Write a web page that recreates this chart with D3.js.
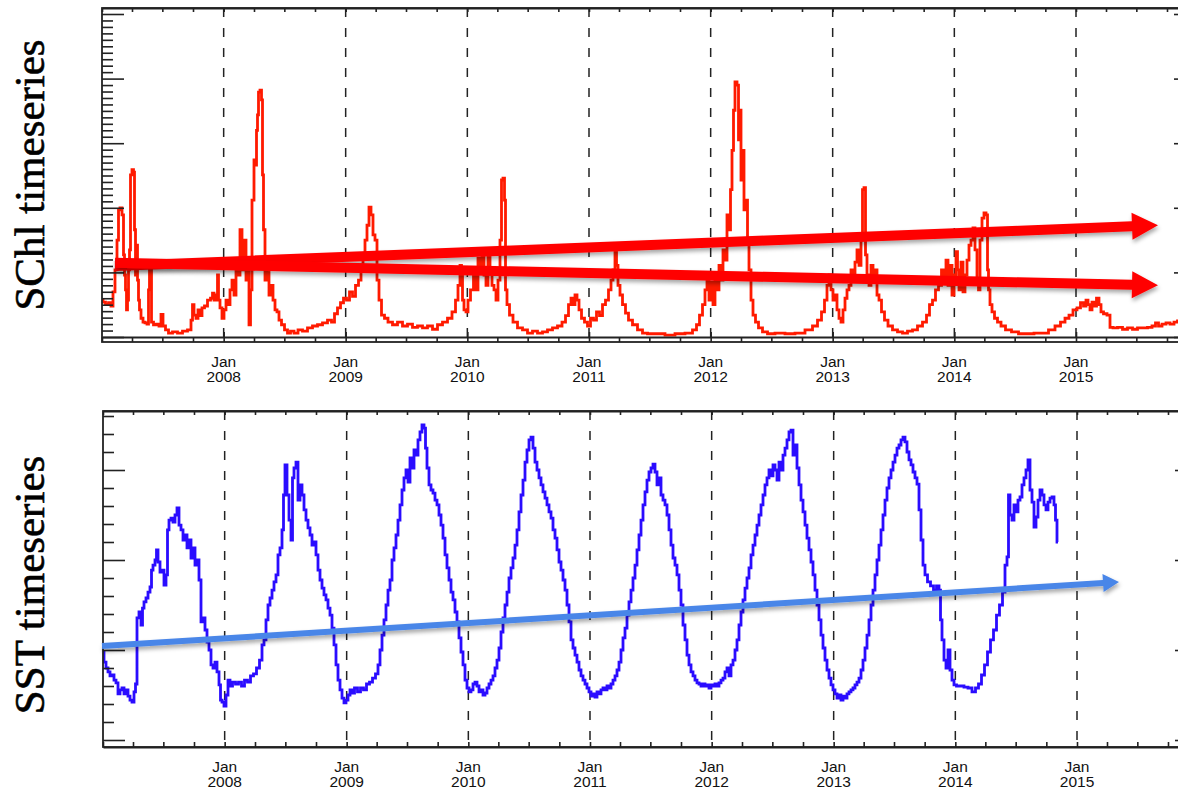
<!DOCTYPE html>
<html><head><meta charset="utf-8">
<script src="https://cdn.jsdelivr.net/npm/d3@7"></script>
<style>html,body{margin:0;padding:0;background:#fff;} svg{display:block}</style>
</head><body>
<svg id="c" width="1178" height="790"></svg>
<script>
// ---------- DATA ----------
// time unit: days since 2007-01-01
const startYear = 2007;
const lastDay = 3231;
const yearTicks = [2008, 2009, 2010, 2011, 2012, 2013, 2014, 2015];
const monthLabel = "Jan";
const titles = ["SChl timeseries", "SST timeseries"];

// surface chlorophyll (relative units, 1 = one major tick)
const schlSeries = [
[0,0.57],[6,0.54],[15,0.50],[24,0.53],[30,0.48],[36,0.70],[42,1.04],[48,1.50],[51,1.97],[57,2.00],[63,1.89],[66,1.27],[69,0.96],[72,0.73],[75,0.42],[78,0.57],[81,1.04],[84,1.35],[87,2.51],[93,2.59],[96,2.55],[99,1.66],[102,0.96],[105,1.42],[108,0.88],[111,0.57],[114,0.42],[120,0.29],[126,0.23],[132,0.22],[138,0.20],[141,0.73],[144,1.07],[147,1.04],[150,0.23],[159,0.19],[168,0.20],[174,0.17],[180,0.35],[186,0.17],[195,0.11],[204,0.06],[219,0.08],[234,0.06],[249,0.09],[264,0.11],[270,0.26],[273,0.50],[279,0.34],[285,0.29],[291,0.42],[297,0.33],[303,0.45],[312,0.48],[321,0.57],[330,0.60],[333,0.68],[339,0.57],[345,0.65],[348,0.96],[351,0.57],[357,0.45],[363,0.29],[369,0.42],[375,0.57],[381,0.50],[387,0.73],[393,0.88],[399,0.65],[405,1.04],[411,0.96],[417,1.66],[423,1.04],[429,1.50],[435,0.88],[438,1.19],[444,0.19],[447,0.73],[453,2.12],[459,2.74],[462,2.66],[465,3.20],[468,3.44],[471,3.79],[477,3.82],[480,3.67],[483,2.51],[486,1.66],[492,0.88],[498,1.04],[504,0.65],[510,0.80],[516,0.57],[522,0.42],[528,0.39],[534,0.26],[543,0.19],[552,0.11],[561,0.06],[570,0.09],[582,0.06],[594,0.11],[609,0.09],[624,0.14],[639,0.17],[654,0.19],[669,0.22],[684,0.26],[693,0.23],[702,0.36],[711,0.45],[720,0.53],[729,0.60],[738,0.57],[747,0.70],[756,0.63],[765,0.80],[774,0.88],[780,1.04],[786,1.27],[792,1.50],[798,1.73],[804,2.01],[810,1.89],[816,1.58],[822,1.50],[828,0.88],[834,0.57],[843,0.34],[852,0.29],[864,0.23],[879,0.19],[894,0.23],[909,0.17],[924,0.20],[939,0.15],[954,0.17],[969,0.14],[984,0.17],[999,0.12],[1014,0.19],[1029,0.23],[1044,0.29],[1056,0.39],[1065,0.57],[1071,0.80],[1077,1.11],[1080,1.07],[1083,0.57],[1089,0.42],[1095,0.39],[1101,0.57],[1110,0.73],[1119,0.96],[1125,0.73],[1131,1.22],[1137,1.04],[1143,1.27],[1149,0.96],[1155,0.80],[1161,1.35],[1167,1.04],[1173,0.80],[1179,0.73],[1185,0.57],[1191,0.88],[1197,1.50],[1200,2.43],[1206,2.46],[1209,2.12],[1212,0.73],[1218,0.50],[1227,0.34],[1239,0.23],[1254,0.14],[1269,0.11],[1284,0.06],[1299,0.09],[1314,0.06],[1329,0.08],[1344,0.11],[1359,0.14],[1374,0.17],[1386,0.23],[1395,0.33],[1404,0.50],[1410,0.60],[1416,0.50],[1422,0.65],[1428,0.57],[1434,0.42],[1443,0.29],[1452,0.23],[1461,0.17],[1470,0.29],[1479,0.26],[1488,0.39],[1497,0.33],[1506,0.50],[1515,0.57],[1524,0.73],[1530,0.88],[1536,1.04],[1542,1.35],[1545,1.11],[1551,0.80],[1557,0.65],[1566,0.50],[1575,0.37],[1584,0.26],[1599,0.19],[1614,0.11],[1629,0.06],[1644,0.05],[1674,0.05],[1704,0.03],[1734,0.05],[1764,0.06],[1779,0.11],[1788,0.19],[1797,0.34],[1806,0.50],[1812,0.73],[1818,0.88],[1824,0.57],[1830,0.85],[1836,0.50],[1842,0.96],[1848,0.73],[1854,1.11],[1860,0.88],[1866,1.35],[1872,1.19],[1878,1.89],[1884,1.66],[1887,2.28],[1893,2.89],[1896,3.51],[1902,3.95],[1908,3.90],[1911,3.05],[1914,3.51],[1920,2.43],[1923,2.89],[1929,1.97],[1935,2.12],[1938,1.50],[1944,1.04],[1950,0.57],[1956,0.34],[1965,0.23],[1974,0.14],[1989,0.08],[2004,0.05],[2034,0.06],[2064,0.05],[2094,0.06],[2124,0.11],[2139,0.17],[2154,0.26],[2163,0.39],[2172,0.57],[2178,0.80],[2184,0.96],[2190,0.73],[2196,0.57],[2202,0.65],[2208,0.42],[2214,0.29],[2220,0.23],[2226,0.42],[2232,0.60],[2238,0.73],[2244,0.80],[2250,1.04],[2256,0.88],[2262,1.16],[2268,1.35],[2274,1.11],[2280,1.50],[2283,2.28],[2289,2.31],[2292,1.27],[2298,0.96],[2304,0.80],[2310,1.11],[2316,0.88],[2322,1.04],[2328,0.65],[2334,0.57],[2343,0.39],[2352,0.26],[2364,0.17],[2379,0.11],[2394,0.08],[2409,0.06],[2424,0.09],[2439,0.11],[2454,0.17],[2469,0.23],[2478,0.34],[2487,0.50],[2496,0.57],[2505,0.73],[2514,0.80],[2523,1.04],[2529,0.88],[2535,1.19],[2541,0.80],[2547,1.11],[2553,0.65],[2559,0.96],[2565,1.32],[2568,1.04],[2574,0.73],[2580,1.16],[2586,0.70],[2592,0.96],[2598,1.19],[2604,1.42],[2610,1.50],[2616,1.69],[2622,1.35],[2628,0.88],[2631,0.73],[2637,1.50],[2643,1.84],[2649,1.92],[2655,1.89],[2658,1.04],[2661,0.73],[2667,0.50],[2673,0.39],[2682,0.29],[2691,0.23],[2703,0.17],[2718,0.11],[2739,0.08],[2760,0.05],[2784,0.05],[2808,0.06],[2829,0.06],[2850,0.11],[2868,0.17],[2883,0.23],[2895,0.29],[2907,0.34],[2919,0.42],[2931,0.45],[2940,0.53],[2949,0.48],[2955,0.57],[2961,0.50],[2967,0.42],[2973,0.54],[2979,0.48],[2988,0.60],[2994,0.50],[3000,0.39],[3009,0.36],[3021,0.34],[3027,0.15],[3039,0.14],[3054,0.15],[3069,0.12],[3084,0.14],[3099,0.12],[3114,0.14],[3129,0.14],[3144,0.15],[3156,0.17],[3165,0.22],[3174,0.17],[3186,0.20],[3198,0.22],[3210,0.20],[3222,0.23],[3231,0.25]
];

// sea surface temperature (deg C)
const sstSeries = [
[0,14.9],[6,14.33],[12,14.0],[18,13.78],[24,13.56],[30,13.61],[36,13.33],[42,13.17],[48,12.56],[54,12.78],[60,12.89],[66,12.56],[72,12.78],[78,12.44],[84,12.22],[90,12.11],[96,12.67],[99,13.11],[105,16.78],[111,17.11],[117,16.39],[120,17.33],[126,17.67],[132,17.89],[138,18.22],[144,18.5],[147,19.44],[153,19.72],[159,20.0],[162,20.56],[168,19.89],[174,19.33],[180,19.44],[186,18.61],[192,19.17],[195,21.67],[201,22.22],[207,22.33],[213,22.11],[219,22.5],[225,22.89],[231,21.94],[237,21.67],[243,21.11],[249,21.39],[255,20.67],[261,21.11],[267,20.11],[273,20.67],[279,19.72],[285,20.0],[291,18.89],[297,16.56],[303,16.78],[309,16.11],[315,15.44],[321,15.0],[327,14.17],[333,14.0],[339,14.33],[345,13.78],[351,13.06],[354,12.22],[360,12.11],[366,11.89],[372,12.5],[378,13.33],[384,13.0],[393,13.22],[402,13.11],[411,13.22],[420,13.0],[429,13.33],[438,13.22],[447,13.56],[456,13.67],[465,14.0],[474,14.44],[480,15.28],[486,15.56],[492,16.67],[498,17.5],[504,17.89],[510,18.33],[516,18.78],[522,19.17],[528,20.28],[534,20.67],[540,21.67],[543,23.61],[549,25.28],[555,23.61],[561,22.22],[567,21.11],[570,24.56],[576,25.11],[582,25.44],[588,23.33],[594,24.17],[600,23.61],[606,22.78],[612,22.22],[618,21.78],[624,21.39],[630,20.83],[636,21.0],[642,20.28],[648,19.44],[654,18.89],[660,18.44],[666,18.06],[672,17.78],[678,17.33],[684,16.94],[690,16.22],[696,15.28],[702,14.17],[708,13.33],[714,12.78],[720,12.33],[726,12.06],[732,12.22],[738,12.5],[744,12.78],[750,12.61],[759,12.89],[768,12.67],[777,12.89],[786,12.78],[795,13.11],[804,13.22],[813,13.44],[822,13.67],[828,14.17],[834,15.0],[840,15.83],[846,16.67],[852,17.5],[858,18.33],[864,18.89],[870,20.0],[876,20.67],[882,21.39],[888,22.22],[894,23.06],[900,23.89],[906,24.56],[912,25.0],[918,24.33],[924,25.67],[930,25.11],[936,26.11],[942,25.83],[948,26.67],[954,27.11],[960,27.5],[966,27.33],[969,26.22],[975,25.11],[981,24.17],[987,23.89],[993,23.72],[999,23.33],[1005,23.06],[1011,22.5],[1017,21.94],[1023,21.22],[1029,20.28],[1035,19.56],[1041,18.89],[1047,18.22],[1053,17.78],[1059,17.11],[1065,16.56],[1071,15.67],[1077,14.89],[1083,14.17],[1089,13.33],[1095,12.89],[1101,12.67],[1107,12.78],[1113,13.11],[1119,13.22],[1125,13.0],[1131,12.67],[1137,12.78],[1143,12.5],[1149,12.61],[1155,12.89],[1161,13.11],[1167,13.33],[1173,13.56],[1179,14.0],[1185,14.44],[1191,15.11],[1197,16.0],[1203,16.78],[1209,17.5],[1215,18.22],[1221,19.0],[1227,19.56],[1233,20.11],[1239,20.83],[1245,21.67],[1251,22.67],[1257,23.61],[1263,24.44],[1269,25.44],[1275,26.11],[1281,26.67],[1287,26.83],[1293,26.22],[1299,25.44],[1305,25.0],[1311,24.56],[1317,24.17],[1323,23.78],[1329,23.44],[1335,23.06],[1341,22.67],[1347,22.33],[1353,21.67],[1359,21.22],[1365,20.56],[1371,19.89],[1377,19.44],[1383,18.89],[1389,18.33],[1395,17.5],[1401,16.56],[1407,15.56],[1413,15.11],[1419,14.72],[1425,14.33],[1431,13.89],[1437,13.56],[1443,13.33],[1449,13.11],[1455,12.89],[1461,12.67],[1467,12.44],[1473,12.56],[1479,12.39],[1485,12.67],[1491,12.56],[1497,12.78],[1503,12.89],[1509,12.78],[1515,13.0],[1521,12.89],[1527,13.11],[1533,13.33],[1539,13.56],[1545,13.89],[1551,14.33],[1557,15.0],[1563,15.67],[1569,16.22],[1575,16.94],[1581,17.67],[1587,18.33],[1593,19.0],[1599,19.72],[1605,20.56],[1611,21.39],[1617,22.22],[1623,23.06],[1629,23.78],[1635,24.44],[1641,24.89],[1647,25.11],[1653,25.33],[1659,24.89],[1665,24.17],[1671,24.56],[1677,23.61],[1683,23.33],[1689,23.06],[1695,22.5],[1701,21.67],[1707,20.83],[1713,20.11],[1719,19.72],[1725,19.17],[1731,18.33],[1737,17.5],[1743,16.39],[1749,15.56],[1755,14.72],[1761,14.17],[1767,13.78],[1773,13.56],[1779,13.33],[1785,13.17],[1791,13.11],[1797,13.0],[1803,13.11],[1809,13.0],[1815,13.06],[1821,12.89],[1827,13.06],[1833,13.0],[1839,13.11],[1845,13.0],[1851,13.17],[1857,13.33],[1863,13.44],[1869,13.78],[1875,14.0],[1881,13.56],[1887,14.17],[1893,14.44],[1899,15.0],[1905,15.56],[1911,16.39],[1917,17.11],[1923,17.78],[1929,18.44],[1935,19.0],[1941,19.56],[1947,20.28],[1953,20.83],[1959,21.39],[1965,21.94],[1971,22.5],[1977,23.06],[1983,23.61],[1989,24.17],[1995,24.56],[2001,25.0],[2007,24.67],[2013,25.28],[2019,25.0],[2025,24.44],[2031,25.44],[2037,25.0],[2043,25.83],[2049,26.22],[2055,26.67],[2061,27.11],[2067,27.22],[2073,25.83],[2079,26.39],[2085,25.11],[2091,24.17],[2097,23.33],[2103,22.67],[2109,21.94],[2115,21.22],[2121,20.56],[2127,19.89],[2133,19.17],[2139,18.33],[2145,17.5],[2151,16.67],[2157,15.83],[2163,15.11],[2169,14.44],[2175,13.89],[2181,13.44],[2187,13.06],[2193,12.78],[2199,12.56],[2205,12.33],[2211,12.5],[2217,12.22],[2223,12.44],[2229,12.33],[2235,12.56],[2241,12.67],[2247,12.78],[2253,12.89],[2259,13.06],[2265,13.22],[2271,13.44],[2277,13.89],[2283,14.44],[2289,15.11],[2295,15.83],[2301,16.67],[2307,17.5],[2313,18.33],[2319,19.17],[2325,20.0],[2331,20.83],[2337,21.67],[2343,22.5],[2349,23.33],[2355,24.0],[2361,24.56],[2367,25.0],[2373,25.44],[2379,25.83],[2385,26.22],[2391,26.39],[2397,26.67],[2403,26.83],[2409,26.56],[2415,26.0],[2421,25.56],[2427,25.28],[2433,24.89],[2439,24.56],[2445,24.22],[2451,22.78],[2457,21.11],[2463,19.72],[2469,19.17],[2478,18.78],[2487,18.56],[2496,18.33],[2505,18.56],[2511,18.33],[2514,16.67],[2520,15.56],[2526,14.44],[2532,14.0],[2538,15.0],[2544,13.89],[2550,13.33],[2556,13.06],[2565,13.0],[2577,13.0],[2589,12.94],[2601,12.89],[2613,12.67],[2622,12.89],[2631,13.11],[2640,13.61],[2649,14.17],[2658,14.89],[2667,15.56],[2676,16.11],[2685,16.94],[2694,17.5],[2703,18.22],[2709,19.72],[2715,20.17],[2718,23.61],[2724,22.5],[2730,22.22],[2736,23.06],[2742,22.67],[2748,23.33],[2754,23.5],[2760,24.17],[2766,24.56],[2772,25.0],[2778,25.56],[2784,23.89],[2790,23.22],[2796,21.83],[2802,22.39],[2808,23.33],[2814,23.89],[2820,23.61],[2826,23.06],[2832,22.78],[2838,23.22],[2844,23.44],[2850,23.5],[2856,23.06],[2859,22.22],[2865,21.0]
];

// trend arrows: [startDay, startValue, endDay, endValue]
const schlArrows = [[39, 1.10, 3168, 1.73], [39, 1.15, 3168, 0.80]];
const sstArrows = [[-3, 15.22, 3048, 18.78]];

// ---------- CHART ----------
const svg = d3.select("#c");
const day0 = new Date(startYear, 0, 1);
const toDate = d => d3.timeDay.offset(day0, d);
const defs = svg.append("defs");
const f = defs.append("filter").attr("id", "shadow").attr("x", "-5%").attr("y", "-50%").attr("width", "110%").attr("height", "200%");
f.append("feDropShadow").attr("dx", 1).attr("dy", 3).attr("stdDeviation", 2.2)
  .attr("flood-color", "#000").attr("flood-opacity", 0.35);

const INK = "#222";

function panel(cfg) {
  const x = d3.scaleTime().domain([toDate(0), toDate(lastDay)]).range([cfg.x0, cfg.x1]);
  const y = d3.scaleLinear().domain(cfg.yDom).range(cfg.yRng);
  const g = svg.append("g");
  const clipId = "clip" + cfg.id;
  defs.append("clipPath").attr("id", clipId).append("rect")
    .attr("x", cfg.x0).attr("y", cfg.top).attr("width", cfg.x1 - cfg.x0).attr("height", cfg.plotBottom - cfg.top);

  // dashed year lines
  g.selectAll("line.yr").data(yearTicks).join("line")
    .attr("x1", d => x(new Date(d, 0, 1))).attr("x2", d => x(new Date(d, 0, 1)))
    .attr("y1", cfg.top).attr("y2", cfg.plotBottom)
    .attr("stroke", INK).attr("stroke-width", 1.5).attr("stroke-dasharray", "9,11");

  // data line
  const line = d3.line().curve(d3.curveStep).x(d => x(toDate(d[0]))).y(d => y(d[1]));
  g.append("path").datum(cfg.data).attr("d", line).attr("fill", "none")
    .attr("stroke", cfg.color).attr("stroke-width", 2.8).attr("stroke-linejoin", "miter")
    .attr("clip-path", `url(#${clipId})`);

  // axes
  const styleAxis = sel => {
    sel.selectAll("line").attr("stroke", INK).attr("stroke-width", 1.6);
    sel.selectAll("path.domain").attr("stroke", INK).attr("stroke-width", 1.8);
    sel.selectAll("text").remove();
  };
  const quarters = d3.timeMonth.every(3);
  g.append("g").attr("transform", `translate(0,${cfg.top})`)
    .call(d3.axisBottom(x).ticks(quarters).tickSize(4).tickSizeOuter(0).tickFormat("")).call(styleAxis);
  g.append("g").attr("transform", `translate(0,${cfg.plotBottom})`)
    .call(cfg.doubleBottom
      ? d3.axisBottom(x).ticks(quarters).tickSize(cfg.frameBottom - cfg.plotBottom).tickSizeOuter(0).tickFormat("")
      : d3.axisTop(x).ticks(quarters).tickSize(5).tickSizeOuter(0).tickFormat(""))
    .call(styleAxis);
  if (cfg.doubleBottom) {
    g.append("g").attr("transform", `translate(0,${cfg.plotBottom})`)
      .call(d3.axisTop(x).tickValues(yearTicks.map(v => new Date(v, 0, 1))).tickSize(5).tickSizeOuter(0).tickFormat(""))
      .call(styleAxis).select("path.domain").remove();
  }
  g.append("g").attr("transform", `translate(${cfg.x0},0)`)
    .call(d3.axisRight(y).tickValues(cfg.minor).tickSize(11).tickSizeOuter(0).tickFormat("")).call(styleAxis)
    .select("path.domain").remove();
  g.append("g").attr("transform", `translate(${cfg.x0},0)`)
    .call(d3.axisRight(y).tickValues(cfg.major).tickSize(22).tickSizeOuter(0).tickFormat("")).call(styleAxis)
    .select("path.domain").remove();
  g.append("g").attr("transform", `translate(${cfg.x1},0)`)
    .call(d3.axisLeft(y).tickValues(cfg.major).tickSize(5).tickSizeOuter(0).tickFormat("")).call(styleAxis)
    .select("path.domain").remove();

  g.append("rect").attr("x", cfg.x0).attr("y", cfg.top)
    .attr("width", cfg.x1 - cfg.x0).attr("height", cfg.frameBottom - cfg.top)
    .attr("fill", "none").attr("stroke", INK).attr("stroke-width", 1.8);

  const lab = g.selectAll("g.lab").data(yearTicks).join("g")
    .attr("transform", d => `translate(${x(new Date(d, 0, 1))},0)`);
  lab.append("text").attr("y", cfg.labelY).text(monthLabel);
  lab.append("text").attr("y", cfg.labelY + 15).text(d => d);
  lab.selectAll("text").attr("text-anchor", "middle").attr("font-family", "Liberation Sans, Arial, sans-serif")
    .attr("font-size", 15.5).attr("fill", "#111");

  cfg.arrows.forEach(a => {
    const p0 = [x(toDate(a[0])), y(a[1])], p1 = [x(toDate(a[2])), y(a[3])];
    const dx = p1[0] - p0[0], dy = p1[1] - p0[1], L = Math.hypot(dx, dy);
    const u = [dx / L, dy / L], n = [-u[1], u[0]];
    const b = [p1[0] - u[0] * cfg.headLen, p1[1] - u[1] * cfg.headLen];
    const w = cfg.shaftW, H = cfg.headW;
    const pts = [
      [p0[0] + n[0] * w, p0[1] + n[1] * w], [b[0] + n[0] * w, b[1] + n[1] * w],
      [b[0] + n[0] * H, b[1] + n[1] * H], p1,
      [b[0] - n[0] * H, b[1] - n[1] * H], [b[0] - n[0] * w, b[1] - n[1] * w],
      [p0[0] - n[0] * w, p0[1] - n[1] * w]
    ];
    g.append("path").attr("d", d3.line()(pts) + "Z").attr("fill", cfg.arrowColor).attr("filter", "url(#shadow)");
  });

  svg.append("text").attr("transform", `translate(${cfg.titleX},${cfg.titleY}) rotate(-90)`)
    .attr("text-anchor", "middle").attr("font-family", "Liberation Serif, Times New Roman, serif")
    .attr("font-size", 43).attr("fill", "#000").attr("stroke", "#000").attr("stroke-width", 0.6)
    .text(cfg.title);
}

panel({
  id: "a", data: schlSeries, color: "#ff1a00", x0: 102, x1: 1179, top: 8, plotBottom: 337, frameBottom: 342,
  doubleBottom: true, yDom: [0, 5], yRng: [337, 14],
  major: d3.range(0, 6), minor: d3.range(1, 51).map(v => v / 10).filter(v => Math.abs(v - Math.round(v)) > 1e-6),
  labelY: 367, arrows: schlArrows, arrowColor: "#ff0000", shaftW: 5, headLen: 26, headW: 13.5,
  title: titles[0], titleX: 44, titleY: 175
});
panel({
  id: "b", data: sstSeries, color: "#2a0cff", x0: 103, x1: 1180, top: 411, plotBottom: 747, frameBottom: 747,
  doubleBottom: false, yDom: [10, 25], yRng: [740, 470],
  major: [10, 15, 20, 25], minor: d3.range(10, 29).filter(v => v % 5 !== 0),
  labelY: 772, arrows: sstArrows, arrowColor: "#4a86e8", shaftW: 3, headLen: 16, headW: 9,
  title: titles[1], titleX: 44, titleY: 585
});
</script>
</body></html>
